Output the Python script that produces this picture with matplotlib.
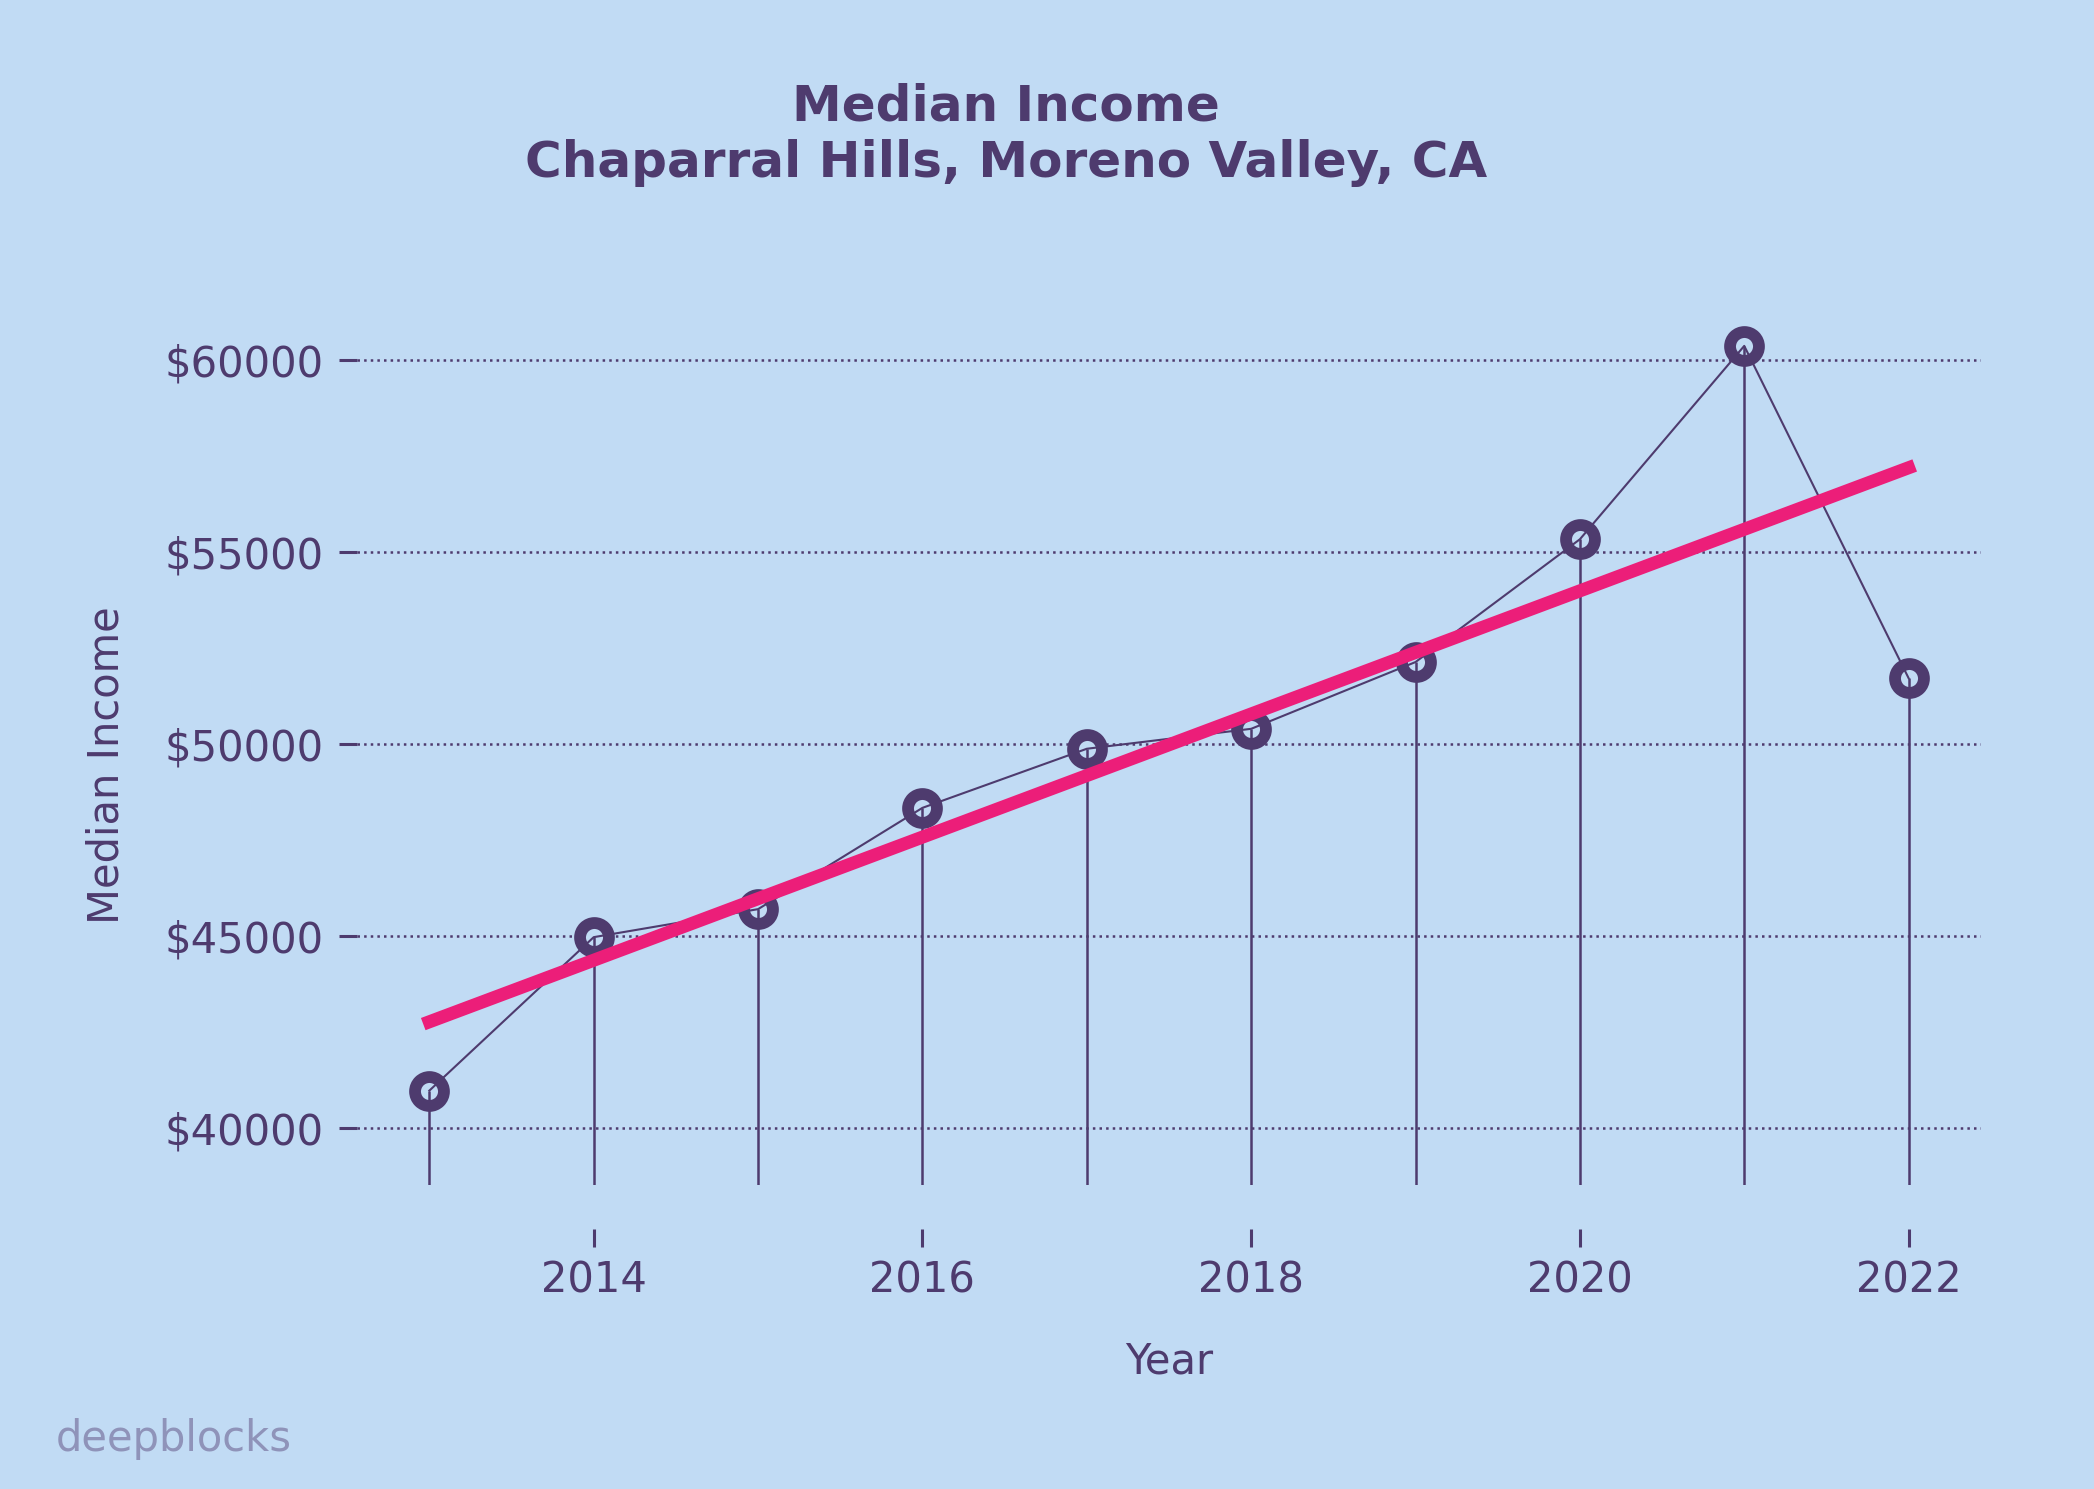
import numpy as np
import matplotlib
matplotlib.use("Agg")
import matplotlib.pyplot as plt

# Data
years = [2013, 2014, 2015, 2016, 2017, 2018, 2019, 2020, 2021, 2022]
income = [40970, 44970, 45700, 48340, 49880, 50400, 52140, 55340, 60380, 51720]
yticks = [40000, 45000, 50000, 55000, 60000]
xticks = [2014, 2016, 2018, 2020, 2022]

title = "Median Income\nChaparral Hills, Moreno Valley, CA"

bg = "#c1dbf4"
purple = "#4e3b6e"
pink = "#ec1e79"

plt.rcParams['font.family'] = ['DejaVu Sans']

fig = plt.figure(figsize=(10.47, 7.445), dpi=200, facecolor=bg)
ax = fig.add_axes([0.1705, 0.2042, 0.7755, 0.5635])
ax.set_facecolor(bg)

x = np.array(years)
y = np.array(income)

# stems from the bottom of the axes up to each point
ymin = y.min() * 0.94
ax.vlines(x, ymin, y, color=purple, lw=0.9, zorder=3)

# markers
ax.plot(x, y, linestyle='none', marker='o', ms=10.4, mew=4.25,
        mec=purple, mfc=bg, zorder=2, clip_on=False)
# connecting line
ax.plot(x, y, color=purple, lw=0.75, zorder=3, clip_on=False)

# linear trend
coef = np.polyfit(x, y, 1)
ax.plot(x[[0, -1]], np.polyval(coef, x[[0, -1]]), color=pink, lw=4.7, zorder=4)

ax.set_ylim(ymin, y.max())
ax.set_xlim(x.min() - 0.44, x.max() + 0.44)

ax.set_yticks(yticks)
ax.set_yticklabels([f"${v}" for v in yticks])
ax.set_xticks(xticks)

for s in ax.spines.values():
    s.set_visible(False)
ax.spines['bottom'].set_position(('outward', 16))

ax.grid(axis='y', linestyle=':', color=purple, lw=0.9)
ax.set_axisbelow(True)

ax.tick_params(axis='both', colors=purple, labelsize=15, length=6.5, width=1.1, pad=5.5)
ax.tick_params(axis='x', pad=4.5)

ax.set_xlabel("Year", color=purple, fontsize=15, labelpad=14)
ax.set_ylabel("Median Income", color=purple, fontsize=15, labelpad=13.5)

fig.text(0.4805, 0.9093, title, ha='center', va='center', color=purple,
         fontsize=18, fontweight='bold', linespacing=1.22)
fig.text(0.0267, 0.0338, "deepblocks", ha='left', va='center', color="#8f93b9",
         fontsize=15)

fig.savefig("out.png", dpi=200, facecolor=bg)
